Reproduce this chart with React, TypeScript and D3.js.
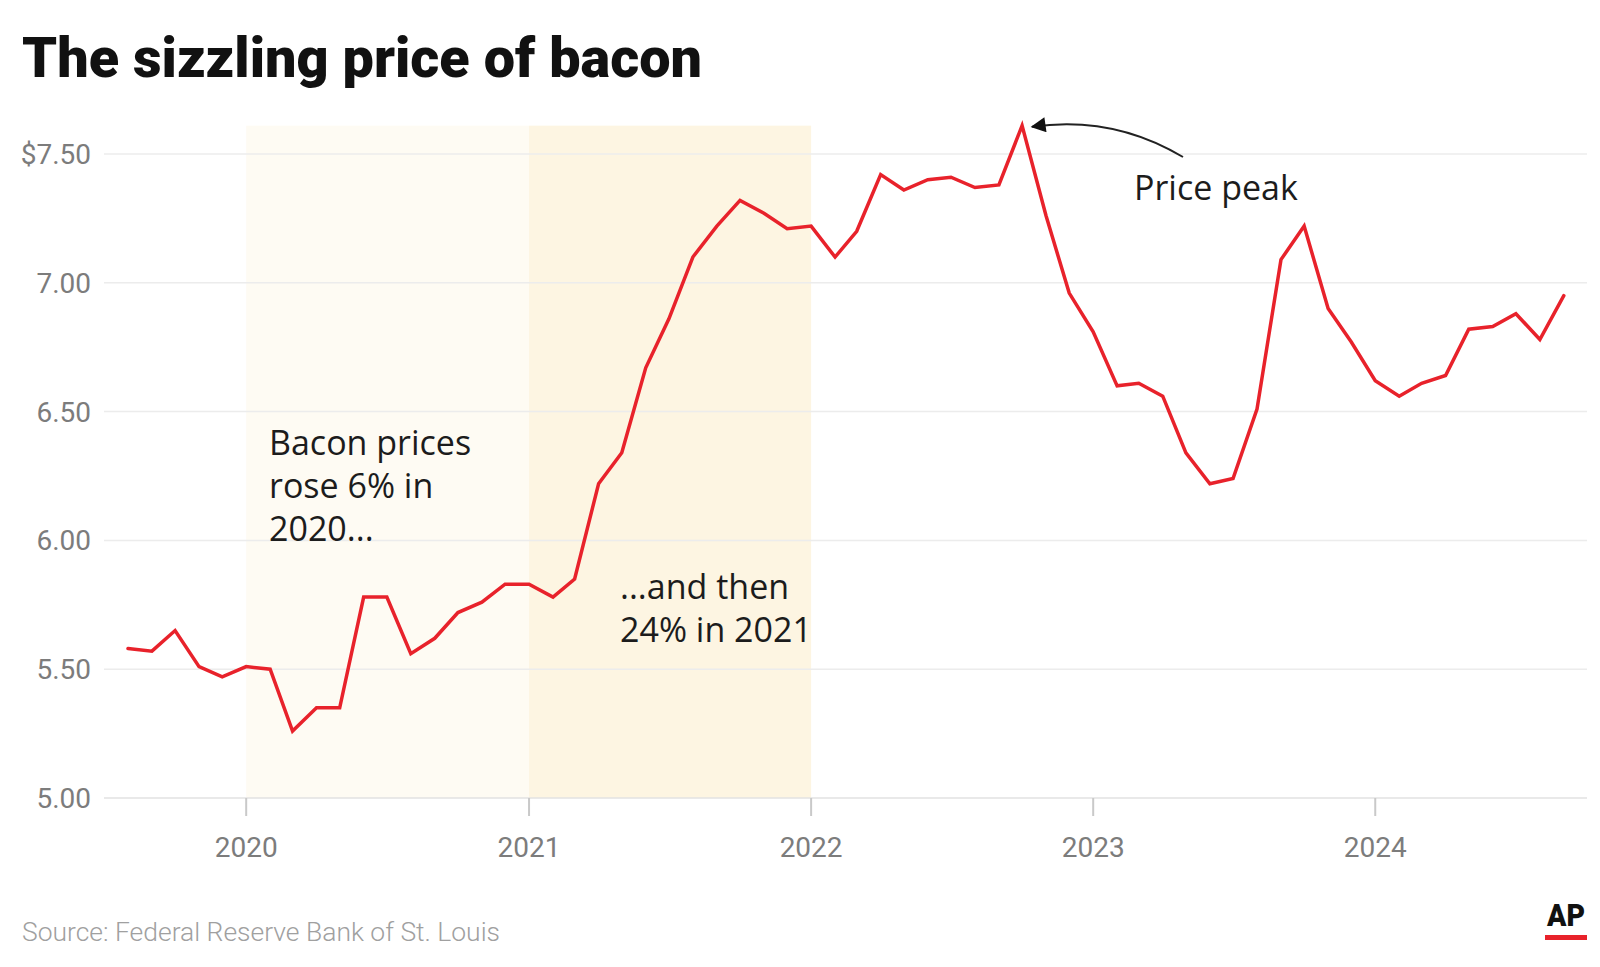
import * as d3 from 'd3';

// monthly average retail price of sliced bacon, $/lb
const prices2019 = [5.58, 5.57, 5.65, 5.51, 5.47]; // Aug-Dec
const prices2020 = [5.51, 5.5, 5.26, 5.35, 5.35, 5.78, 5.78, 5.56, 5.62, 5.72, 5.76, 5.83];
const prices2021 = [5.83, 5.78, 5.85, 6.22, 6.34, 6.67, 6.86, 7.1, 7.22, 7.32, 7.27, 7.21];
const prices2022 = [7.22, 7.1, 7.2, 7.42, 7.36, 7.4, 7.41, 7.37, 7.38, 7.61, 7.26, 6.96];
const prices2023 = [6.81, 6.6, 6.61, 6.56, 6.34, 6.22, 6.24, 6.51, 7.09, 7.22, 6.9, 6.77];
const prices2024 = [6.62, 6.56, 6.61, 6.64, 6.82, 6.83, 6.88, 6.78, 6.95]; // Jan-Sep

const firstMonth = new Date(2019, 7, 1);
const yTickValues = [7.5, 7, 6.5, 6, 5.5, 5];
const yTickLabels = ['$7.50', '7.00', '6.50', '6.00', '5.50', '5.00'];
const xTickYears = [2020, 2021, 2022, 2023, 2024];
const highlightYears = [2020, 2021];

const W = 1600;
const H = 967;
const margin = { left: 104, right: 13, top: 154, bottom: 169 };

export default function App() {
  const prices = [...prices2019, ...prices2020, ...prices2021, ...prices2022, ...prices2023, ...prices2024];
  const data = prices.map((p, i) => ({ date: d3.timeMonth.offset(firstMonth, i), price: p }));

  const x = d3.scaleTime()
    .domain([new Date(2019, 6, 1), new Date(2024, 9, 1)])
    .range([margin.left, W - margin.right]);

  const y = d3.scaleLinear()
    .domain([5, 7.5])
    .range([H - margin.bottom, margin.top]);

  const line = d3.line<{ date: Date; price: number }>()
    .x(d => x(d.date))
    .y(d => y(d.price));

  const peak = data.reduce((a, b) => (b.price > a.price ? b : a));
  const bandTop = y(peak.price);
  const bandColors = ['#fefbf3', '#fdf5e2'];

  const axisFont = 'Roboto, "Liberation Sans", sans-serif';
  const noteFont = '"Open Sans", "Noto Sans", sans-serif';

  return (
    <svg width={W} height={H} style={{ position: 'absolute', left: 0, top: 0, background: '#fff' }}>
      <defs>
        <marker id="arrowhead" viewBox="0 0 10 10" refX="9" refY="5" markerWidth="22" markerHeight="15"
          markerUnits="userSpaceOnUse" orient="auto">
          <path d="M0,0 L10,5 L0,10 z" fill="#111" />
        </marker>
      </defs>

      <text x={22} y={77} fontFamily='Roboto, "Liberation Sans", sans-serif' fontWeight={900} fontSize={55}
        fill="#111" textLength={680} lengthAdjust="spacingAndGlyphs">
        The sizzling price of bacon
      </text>

      {highlightYears.map((yr, i) => (
        <rect key={yr}
          x={x(new Date(yr, 0, 1))}
          y={bandTop}
          width={x(new Date(yr + 1, 0, 1)) - x(new Date(yr, 0, 1))}
          height={y(5) - bandTop}
          fill={bandColors[i]} />
      ))}

      {yTickValues.map((v, i) => (
        <g key={v}>
          <line x1={margin.left} x2={W - margin.right} y1={y(v)} y2={y(v)}
            stroke={v === 5 ? '#e2e2e2' : '#ececec'} strokeWidth={1.5} />
          <text x={91} y={y(v)} dy="0.36em" textAnchor="end" fontFamily={axisFont}
            fontSize={28} fill="#7c7c7c">{yTickLabels[i]}</text>
        </g>
      ))}

      {xTickYears.map(yr => {
        const xx = x(new Date(yr, 0, 1));
        return (
          <g key={yr}>
            <line x1={xx} x2={xx} y1={y(5)} y2={y(5) + 18} stroke="#c9c9c9" strokeWidth={2} />
            <text x={xx} y={857} textAnchor="middle" fontFamily={axisFont} fontSize={28} fill="#7c7c7c">{yr}</text>
          </g>
        );
      })}

      <path d={line(data) || ''} fill="none" stroke="#e8222b" strokeWidth={3.5}
        strokeLinejoin="miter" strokeLinecap="round" />

      <g fontFamily={noteFont} fontSize={34} fill="#1c1c1c">
        <text x={269} y={455}>Bacon prices</text>
        <text x={269} y={498}>rose 6% in</text>
        <text x={269} y={541}>2020...</text>
        <text x={620} y={599}>...and then</text>
        <text x={620} y={642}>24% in 2021</text>
        <text x={1134} y={200}>Price peak</text>
      </g>

      <path d={`M1183,157 Q1113,115 ${x(peak.date) + 10},${y(peak.price) + 1}`}
        fill="none" stroke="#222" strokeWidth={2} markerEnd="url(#arrowhead)" />

      <text x={22} y={941} fontFamily={axisFont} fontWeight={300} fontSize={26} fill="#a0a0a0"
        textLength={478} lengthAdjust="spacingAndGlyphs">
        Source: Federal Reserve Bank of St. Louis
      </text>

      <text x={1566} y={926} textAnchor="middle" fontFamily='Roboto, "Liberation Sans", sans-serif'
        fontWeight={900} fontSize={31} fill="#111" textLength={38} lengthAdjust="spacingAndGlyphs">AP</text>
      <rect x={1545} y={935} width={42} height={5} fill="#e8222b" />
    </svg>
  );
}
